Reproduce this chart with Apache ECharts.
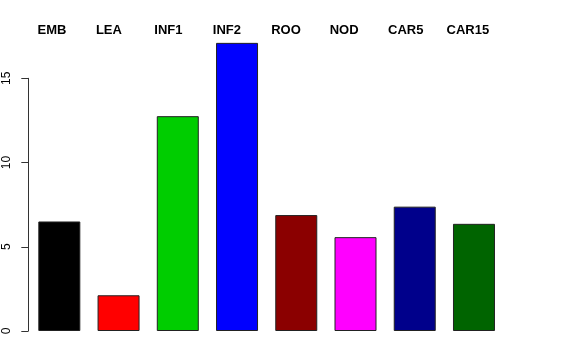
<!DOCTYPE html>
<html>
<head>
<meta charset="utf-8">
<script src="https://cdn.jsdelivr.net/npm/echarts@6/dist/echarts.min.js"></script>
<style>
html,body{margin:0;padding:0;background:#fff;}
#chart{width:576px;height:360px;}
</style>
</head>
<body>
<div id="chart"></div>
<script>
const categories = ['EMB', 'LEA', 'INF1', 'INF2', 'ROO', 'NOD', 'CAR5', 'CAR15'];
const values = [6.5, 2.12, 12.75, 17.1, 6.88, 5.57, 7.38, 6.36];
const barColors = ['#000000', '#FF0000', '#00CD00', '#0000FF', '#8B0000', '#FF00FF', '#00008B', '#006400'];
const yTicks = [0, 5, 10, 15];

const FONT = '"Liberation Sans", Arial, Helvetica, sans-serif';
const chart = echarts.init(document.getElementById('chart'), null, {renderer: 'canvas'});

chart.setOption({
  animation: false,
  backgroundColor: '#ffffff',
  grid: [
    {left: 29.7, width: 473.9, top: 27.7, height: 303.3},
    {left: 28.3, width: 10, top: 78.3, height: 252.7},
    {left: 37.5, width: 409, top: 30, height: 1}
  ],
  xAxis: [
    {gridIndex: 0, type: 'category', data: categories, show: false},
    {gridIndex: 1, type: 'value', show: false},
    {gridIndex: 2, type: 'category', data: categories, position: 'top', boundaryGap: false,
     axisLine: {show: false}, axisTick: {show: false},
     axisLabel: {show: true, interval: 0, align: 'left', verticalAlign: 'middle', margin: 0,
                 fontFamily: FONT, fontWeight: 'bold', fontSize: 13, color: '#000'}}
  ],
  yAxis: [
    {gridIndex: 0, type: 'value', min: 0, max: 18, show: false},
    {gridIndex: 1, type: 'value', min: yTicks[0], max: yTicks[yTicks.length - 1], interval: 5,
     axisLine: {show: true, lineStyle: {color: '#333', width: 1}},
     axisTick: {show: true, length: 7, lineStyle: {color: '#333', width: 1}},
     splitLine: {show: false},
     axisLabel: {show: true, rotate: 90, margin: 16, fontFamily: FONT, fontSize: 12, color: '#000'}},
    {gridIndex: 2, type: 'value', show: false}
  ],
  series: [
    {
      type: 'bar',
      xAxisIndex: 0,
      yAxisIndex: 0,
      barWidth: 42,
      data: values.map((v, i) => ({value: v, itemStyle: {color: barColors[i]}})),
      itemStyle: {borderColor: '#222', borderWidth: 1},
      label: {show: false}
    }
  ]
});
</script>
</body>
</html>
